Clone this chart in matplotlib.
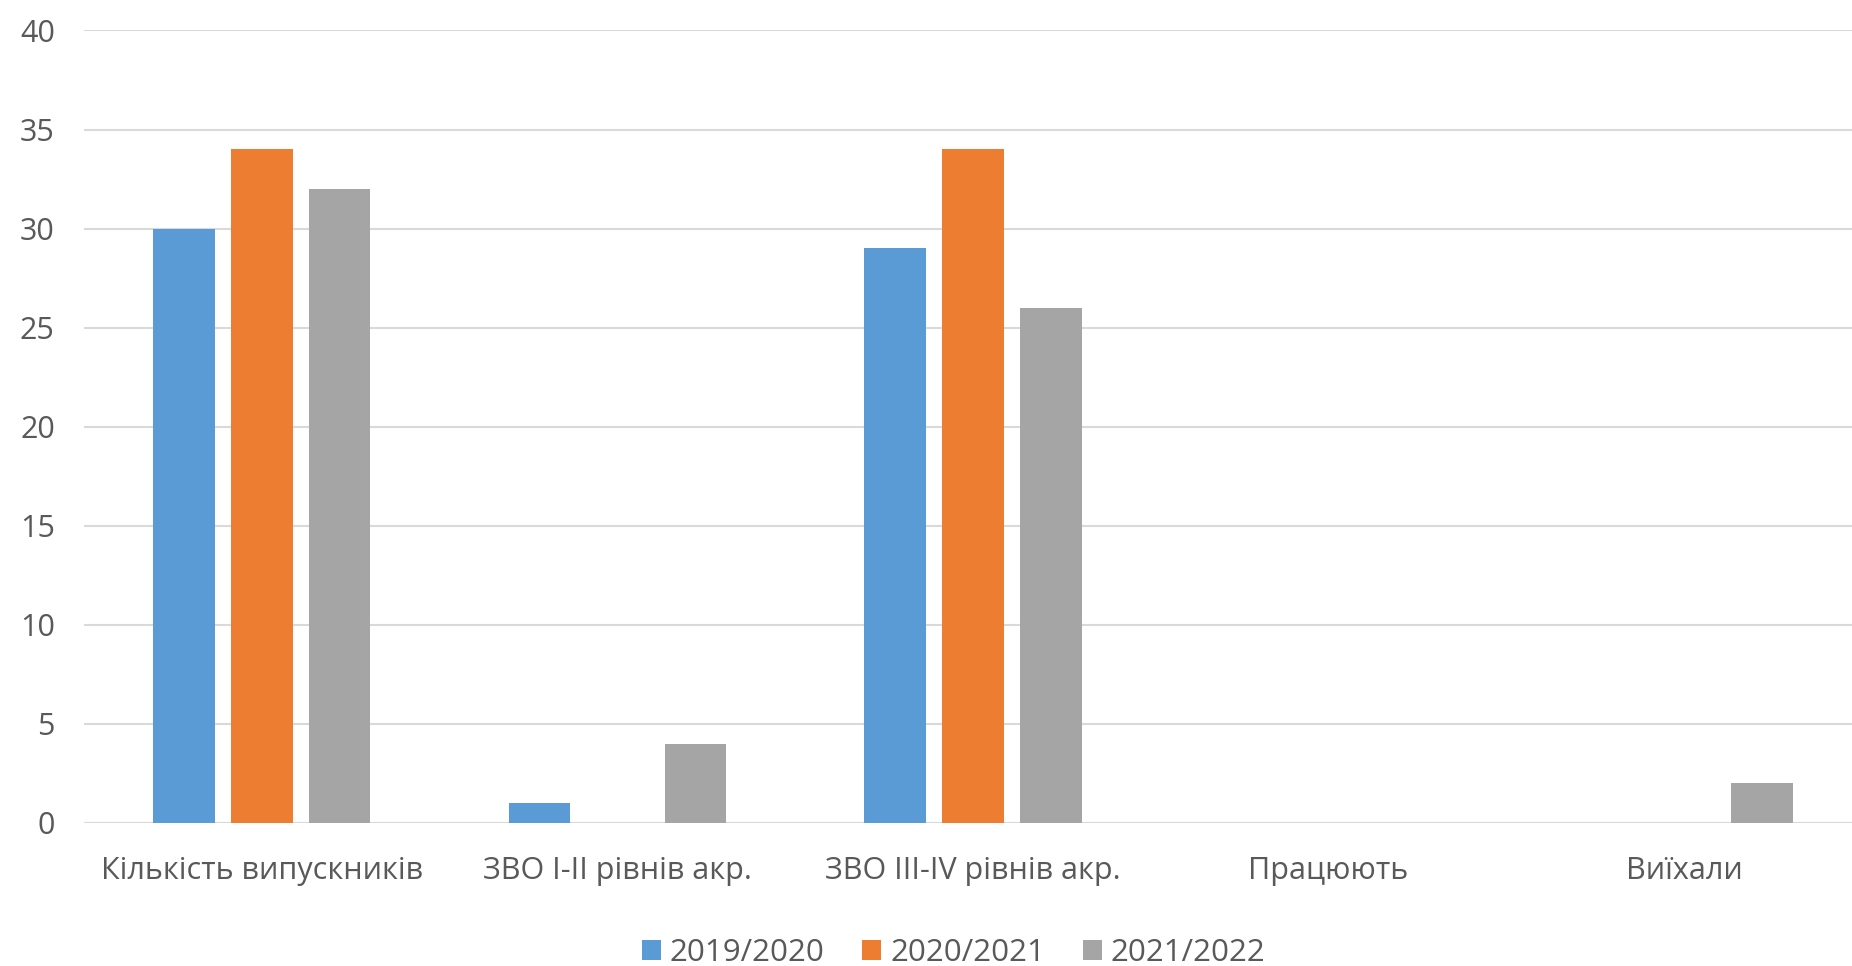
import matplotlib.pyplot as plt
import numpy as np

categories = ['Кількість випускників', 'ЗВО I-II рівнів акр.', 'ЗВО III-IV рівнів акр.', 'Працюють', 'Виїхали']
years = ['2019/2020', '2020/2021', '2021/2022']
v2019 = [30, 1, 29, 0, 0]
v2020 = [34, 0, 34, 0, 0]
v2021 = [32, 4, 26, 0, 2]
colors = ['#5B9BD5', '#ED7D31', '#A5A5A5']

plt.rcParams['font.family'] = ['Open Sans', 'DejaVu Sans']
fig = plt.figure(figsize=(18.52, 9.66), dpi=100)
# plot area: left edge at x=84px, right side is cut off by the picture
ax = fig.add_axes([84 / 1852, (966 - 823) / 966, (1862 - 84) / 1852, (823 - 29.5) / 966])

x = np.arange(len(categories))
w = 0.173
step = 0.219
for i, (vals, lab) in enumerate(zip([v2019, v2020, v2021], years)):
    ax.bar(x + (i - 1) * step, vals, width=w, color=colors[i], label=lab, zorder=2)

ax.set_xlim(-0.5, len(categories) - 0.5)
ax.set_ylim(0, 40.05)
ax.set_yticks(range(0, 41, 5))
ax.yaxis.grid(True, color='#D9D9D9', linewidth=1.5, zorder=0)
ax.set_axisbelow(True)
for s in ax.spines.values():
    s.set_visible(False)
ax.axhline(0, color='#D9D9D9', linewidth=1.5, zorder=1)
ax.tick_params(axis='both', length=0, labelsize=22, colors='#595959')
ax.tick_params(axis='y', pad=21)
ax.tick_params(axis='x', pad=24)
ax.set_xticks(x)
ax.set_xticklabels(categories)

fig.legend(loc='center', bbox_to_anchor=(0.515, 1 - 953 / 966), ncol=3, frameon=False,
           fontsize=22.5, labelcolor='#595959', handlelength=0.6, handleheight=0.6,
           handletextpad=0.3, columnspacing=1.2)

fig.savefig('out.png', dpi=100)
